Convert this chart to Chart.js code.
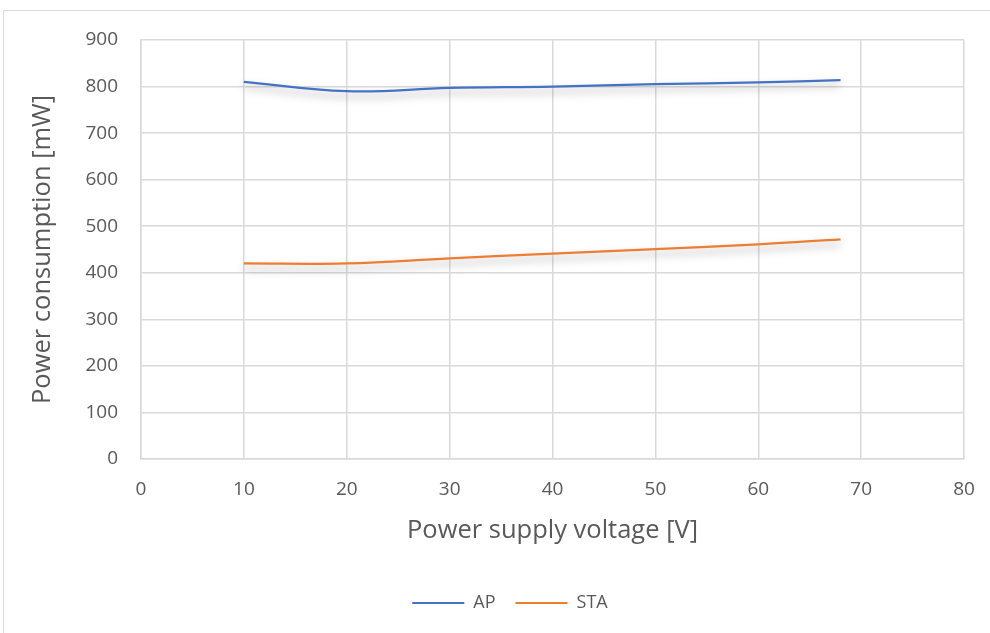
<!DOCTYPE html>
<html>
<head>
<meta charset="utf-8">
<script src="https://cdn.jsdelivr.net/npm/chart.js@4"></script>
<style>
  body { margin: 0; background: #fff; }
  #frame { position: absolute; left: 3px; top: 10px; width: 1000px; height: 700px; border: 1px solid #d9d9d9; }
  #wrap { position: absolute; left: 0; top: 0; width: 990px; height: 633px; }
</style>
</head>
<body>
<div id="frame"></div>
<div id="wrap"><canvas id="chart"></canvas></div>
<script>
const voltage = [10, 20, 30, 40, 50, 60, 68];
const apPower = [810, 790, 797, 800, 805, 809, 814];
const staPower = [420, 420, 431, 441, 451, 461, 472];
const xTicks = [0, 10, 20, 30, 40, 50, 60, 70, 80];
const yTicks = [0, 100, 200, 300, 400, 500, 600, 700, 800, 900];

const toPoints = (ys) => voltage.map((x, i) => ({ x: x, y: ys[i] }));

const textColor = "#595959";
const gridColor = "#d9d9d9";

// soft drop shadow under the lines, like the office chart
const shadowPlugin = {
  id: "lineShadow",
  beforeDatasetsDraw(chart) {
    const ctx = chart.ctx;
    ctx.save();
    ctx.shadowColor = "rgba(0,0,0,0.35)";
    ctx.shadowBlur = 8;
    ctx.shadowOffsetX = 0;
    ctx.shadowOffsetY = 5;
  },
  afterDatasetsDraw(chart) {
    chart.ctx.restore();
  }
};

// the legend in the original sits a bit right of the canvas centre
const legendShift = {
  id: "legendShift",
  afterLayout(chart) {
    if (chart.legend) {
      chart.legend.left += 28;
      chart.legend.right += 28;
    }
  }
};

const config = {
  type: "line",
  data: {
    datasets: [
      {
        label: "AP",
        data: toPoints(apPower),
        borderColor: "#4472C4",
        backgroundColor: "#4472C4",
        borderWidth: 2.25,
        pointRadius: 0,
        tension: 0.4,
      },
      {
        label: "STA",
        data: toPoints(staPower),
        borderColor: "#ED7D31",
        backgroundColor: "#ED7D31",
        borderWidth: 2.25,
        pointRadius: 0,
        tension: 0.4,
      }
    ]
  },
  options: {
    responsive: true,
    maintainAspectRatio: false,
    animation: false,
    layout: { padding: { left: 0, right: 26, top: 40, bottom: 11 } },
    plugins: {
      legend: {
        position: "bottom",
        labels: {
          color: textColor,
          font: { family: "Open Sans", size: 18 },
          boxWidth: 52,
          boxHeight: 0,
          padding: 20,
          generateLabels(chart) {
            return chart.data.datasets.map((ds, i) => ({
              text: ds.label,
              fillStyle: ds.borderColor,
              strokeStyle: ds.borderColor,
              lineWidth: 2,
              fontColor: textColor,
              datasetIndex: i,
            }));
          }
        }
      },
      tooltip: { enabled: false }
    },
    scales: {
      x: {
        type: "linear",
        min: 0,
        max: 80,
        afterBuildTicks(axis) { axis.ticks = xTicks.map(v => ({ value: v })); },
        afterFit(axis) {
          axis.height = 115;
          axis.paddingRight = 0;
        },
        grid: { color: gridColor, lineWidth: 1.5, drawTicks: false },
        border: { color: gridColor, width: 1.5 },
        ticks: { color: textColor, font: { family: "Open Sans", size: 19 }, padding: 19 },
        title: {
          display: true,
          text: "Power supply voltage [V]",
          color: textColor,
          font: { family: "Open Sans", size: 25.5 },
          padding: { top: 0, bottom: 28 }
        }
      },
      y: {
        min: 0,
        max: 900,
        afterBuildTicks(axis) { axis.ticks = yTicks.map(v => ({ value: v })); },
        afterFit(axis) { axis.width = 141; },
        grid: { color: gridColor, lineWidth: 1.5, drawTicks: false },
        border: { color: gridColor, width: 1.5 },
        ticks: { color: textColor, font: { family: "Open Sans", size: 19 }, padding: 23 },
        title: {
          display: true,
          text: "Power consumption [mW]",
          color: textColor,
          font: { family: "Open Sans", size: 25.5 },
          padding: { top: 27, bottom: 0 }
        }
      }
    }
  },
  plugins: [shadowPlugin, legendShift]
};

var myChart = new Chart(document.getElementById("chart"), config);
</script>
</body>
</html>
